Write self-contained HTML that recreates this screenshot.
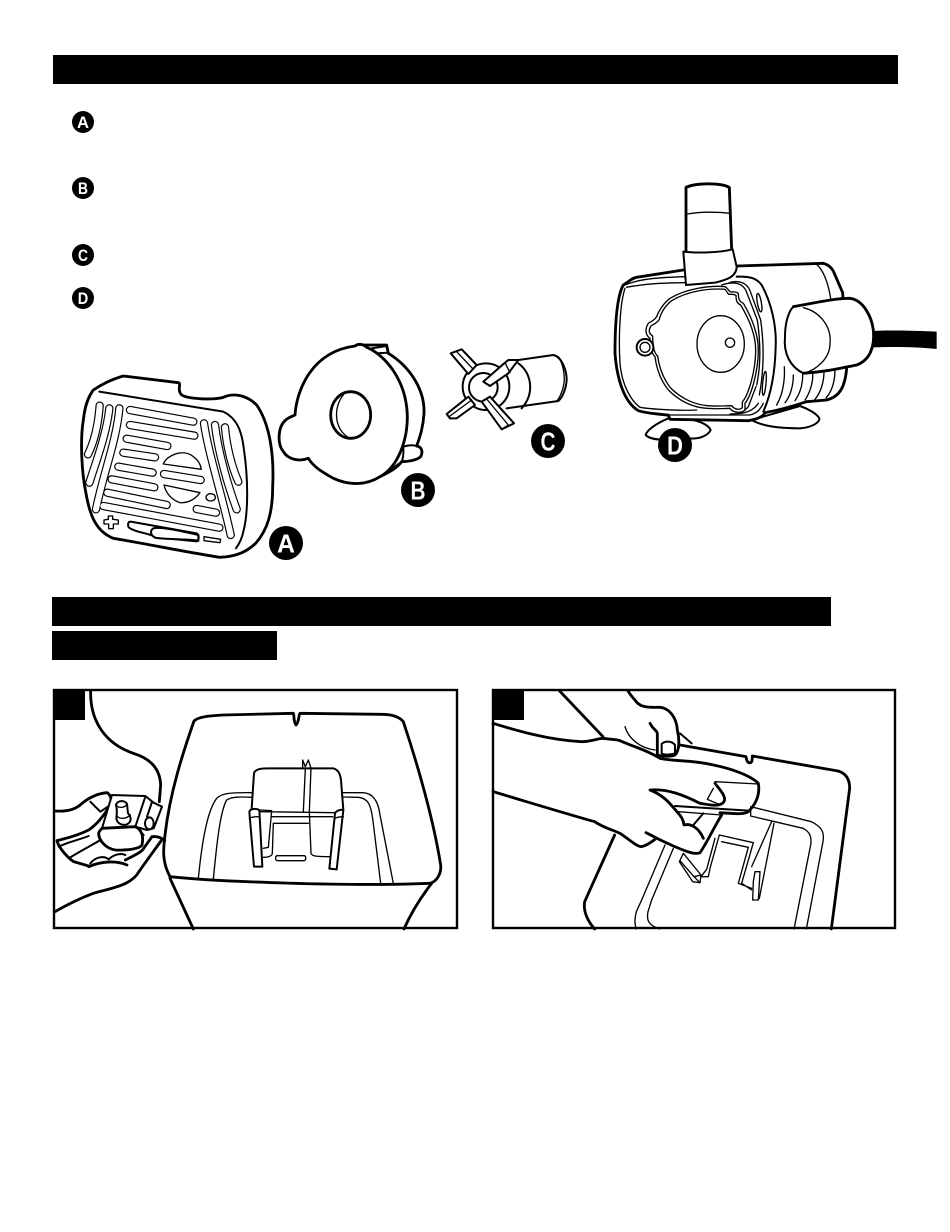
<!DOCTYPE html>
<html><head><meta charset="utf-8"><style>
html,body{margin:0;padding:0;background:#fff}
svg{display:block}
.f{fill:#fff;stroke:#000;stroke-linejoin:round;stroke-linecap:round}
.n{fill:none;stroke:#000;stroke-linejoin:round;stroke-linecap:round}
.b{stroke-width:8.5}.m{stroke-width:6}.t{stroke-width:4}
text{font-family:"Liberation Sans",sans-serif;font-weight:bold;fill:#fff;text-anchor:middle}
</style></head><body>
<svg width="950" height="1232" viewBox="0 0 950 1232" xmlns="http://www.w3.org/2000/svg">
<rect width="950" height="1232" fill="#fff"/>
<rect x="53" y="55" width="845" height="29"/>
<rect x="52" y="597" width="779" height="29"/>
<rect x="52" y="631" width="225" height="29"/>

<!-- Part A -->
<g transform="translate(60,340) scale(.33333)">
<path class="f b" d="M100,150C130,130 165,115 190,108L355,128C365,130 350,150 365,165C385,178 460,180 490,172C520,158 560,165 590,195C628,250 643,340 638,440C638,520 622,570 587,610C560,635 530,650 480,652C400,640 250,610 160,595C110,575 90,530 78,460C65,400 60,300 70,240C75,195 85,170 100,150Z"/>
<path class="n m" d="M118,155L490,215C530,235 545,270 552,330C565,420 565,520 550,575C545,600 535,615 528,625"/>
<defs><g id="sl" fill="none" stroke-linecap="round" stroke-linejoin="round">
<path d="M210,210L400,245M210,255L403,287M200,296L322,318M190,338L285,352M175,380L278,398M155,418L283,442M142,458L320,495M130,498L478,563M312,402L422,420"/>
<path d="M119,197C115,250 105,300 84,343M148,205C140,280 110,360 88,428M178,205C170,300 130,400 108,508"/>
<path d="M432,250C445,340 490,480 512,585M465,255C475,340 505,440 530,508M495,262C500,320 515,380 535,425"/>
<path d="M410,507L468,518"/>
</g></defs>
<use href="#sl" stroke="#000" stroke-width="25"/>
<use href="#sl" stroke="#fff" stroke-width="18"/>
<path class="n t" d="M310,372C320,345 370,325 400,350C415,360 422,375 424,388ZM312,435L420,458C405,480 380,490 360,488C335,480 318,460 312,435Z"/>
<ellipse class="n t" cx="452" cy="472" rx="14" ry="11"/>
<path class="f m" d="M212,545L410,580C418,585 418,600 410,604L290,592C270,580 215,575 205,560C203,550 205,545 212,545Z"/>
<path d="M280,565C300,560 350,570 415,585L415,602C370,595 340,600 290,594C272,590 268,572 280,565Z" fill="#fff" stroke="#000" stroke-width="6"/>
<path class="f t" d="M432,590L482,598L480,608L432,602Z"/>
<path class="f t" d="M145,528L158,528L158,538L175,540L175,552L160,552L160,566L146,566L146,552L132,552L132,540L145,538Z"/>
</g>

<!-- Part B -->
<g transform="translate(270,330) scale(.33333)">
<path class="f b" d="M280,45L350,45L355,70C420,110 465,180 462,250C460,290 450,320 440,348C455,350 460,365 452,380C440,392 410,395 395,395C380,415 360,425 330,440L300,300Z"/>
<path class="f b" d="M75,255C80,180 125,65 255,48C265,40 280,42 290,52C345,75 410,150 412,260C412,330 385,410 330,440C290,465 240,468 190,445C155,425 130,410 115,385C90,395 55,390 40,365C20,340 25,290 45,272C55,262 65,260 75,255Z"/>
<path class="n m" d="M305,55L350,48L355,68L320,70ZM400,350C415,345 430,345 440,348M400,350C400,365 402,380 395,395M345,432L395,395"/>
<ellipse class="f b" cx="242" cy="255" rx="60" ry="70"/>
<path class="n t" d="M220,195C190,230 190,300 240,325"/>
</g>

<!-- Part C -->
<g transform="translate(440,340) scale(.33333)">
<path d="M200,65L340,45C365,50 380,90 380,120C378,150 365,175 355,183L200,205Z" fill="#fff"/>
<path class="n m" d="M200,65L340,45C365,50 380,90 380,120C378,150 365,175 355,183L200,205"/>
<path class="n t" d="M355,50C368,70 375,100 372,130C368,155 358,175 350,183"/>
<path class="n m" d="M235,70C275,100 285,160 245,205"/>
<circle class="f m" cx="138" cy="140" r="70"/>
<circle class="f m" cx="130" cy="142" r="43"/>
<path class="f m" d="M32,40L65,28L110,75L85,102Z"/>
<path class="n t" d="M50,35L100,88"/>
<path class="f m" d="M130,125L195,68L205,60L235,60L205,100L150,138Z"/>
<path class="n t" d="M195,68L210,98"/>
<path class="f m" d="M20,222L85,170L105,195L50,235L30,235Z"/>
<path class="n t" d="M30,228L95,180"/>
<path class="f m" d="M125,185L150,170L222,250L185,268Z"/>
<path class="n t" d="M140,177L205,255L185,268"/>
</g>

<!-- Part D -->
<g transform="translate(600,170) scale(.33333)">
<path class="f m" d="M205,745C170,760 140,780 137,795C150,808 180,810 205,808L270,805C300,808 325,795 332,780C325,765 300,755 280,750Z"/>
<path class="f m" d="M455,750C490,770 540,775 600,775C640,772 660,755 658,745C650,730 620,715 600,708Z"/>
<path d="M820,483C880,480 950,482 1010,485L1010,537C950,530 880,530 820,532Z"/>
<path class="f b" d="M250,300L110,322C95,325 90,332 70,345C50,380 45,470 45,550C50,620 70,695 115,722C140,730 200,735 205,735L210,748L445,752C470,748 490,740 495,728C540,720 590,705 620,695L680,690C720,680 735,650 740,595L728,368L705,315C700,300 690,285 670,280L412,288Z"/>
<path class="n t" d="M650,283C670,300 685,340 692,385M75,345C120,325 190,322 255,320M80,352C130,342 200,338 255,338"/>
<path class="n t" d="M75,355C60,400 55,500 60,580C65,640 90,690 120,712C170,720 260,722 290,720M205,735L450,735C470,730 480,720 490,700"/>
<path class="n m" d="M410,320C450,318 470,325 485,345C515,400 530,470 527,530C525,620 510,680 490,725"/>
<path class="n t" d="M553,590C555,630 550,670 530,705M580,615C580,650 570,680 555,698M608,615C608,650 597,675 585,692M638,610C640,640 628,670 615,690M672,605C672,640 660,670 645,688M705,598C705,635 695,665 678,684"/>
</g>
<g transform="translate(630,270) scale(.33333)">
<path class="n t" d="M275,45C320,30 340,45 348,62L382,150C392,220 392,290 380,345M298,38C330,28 352,42 360,62L392,150C402,220 402,300 388,375M345,420L355,410L378,350M300,432C330,432 365,430 385,400"/>
<ellipse class="n t" cx="388" cy="98" rx="6" ry="28" transform="rotate(-10 388 98)"/>
<ellipse class="n t" cx="403" cy="340" rx="5" ry="36" transform="rotate(5 403 340)"/>
<path class="f t" d="M285,50C240,46 170,55 120,85C100,100 85,125 80,140C70,155 60,155 55,160C45,175 45,195 60,205C60,230 65,250 75,260C80,300 95,335 115,360C150,395 190,412 230,415C260,418 285,415 300,415C310,430 335,430 345,420L345,400C365,375 385,300 385,240C385,200 370,150 340,100C330,95 325,90 325,70C315,62 305,68 300,65C295,60 290,52 285,50Z"/>
<path class="n t" d="M285,58C240,54 175,62 125,92C105,107 92,130 88,148C78,163 68,162 63,168C55,180 56,190 68,198C68,230 73,250 83,258C88,298 103,330 122,354C155,387 195,404 232,407C260,410 285,407 305,407C315,420 330,420 337,413L337,396C357,372 377,300 377,240C377,200 362,155 332,105C322,100 318,95 318,76C308,70 300,75 295,72C290,66 288,60 285,58Z"/>
<circle class="f m" cx="45" cy="232" r="25"/>
<circle class="n t" cx="45" cy="232" r="15"/>
<ellipse class="f t" cx="272" cy="222" rx="71" ry="85"/>
<circle class="f t" cx="300" cy="218" r="14"/>
</g>
<g transform="translate(600,170) scale(.33333)">
<path class="f b" d="M258,245L258,52C290,38 360,38 388,52L395,240"/>
<path class="n t" d="M262,132C300,125 350,125 390,130"/>
<path class="f m" d="M250,245C290,250 360,248 398,238L410,290C410,320 380,330 345,338L258,345Z"/>
<path d="M580,410C640,400 700,385 750,385C790,390 815,440 820,480C825,530 810,570 770,585C720,595 680,605 610,610C570,590 550,550 555,500C555,460 565,425 580,410Z" fill="#fff"/>
<path class="n b" d="M580,410C640,400 700,385 750,385C790,390 815,440 820,480C825,530 810,570 770,585C720,595 680,605 610,610"/>
<path class="n m" d="M610,610C570,590 550,550 555,500C555,460 565,425 580,410"/>
<path class="n t" d="M610,413C660,425 695,470 690,520C690,565 650,600 610,610"/>
</g>

<!-- Panel 1 -->
<g transform="translate(50,685) scale(.33333)">
<path class="n b" d="M360,580L430,732M1145,595C1110,640 1085,680 1062,732"/>
<path class="f b" d="M432,108C445,95 480,92 520,90L730,85C733,90 730,110 738,120C748,110 745,92 750,85L990,88C1020,88 1045,92 1060,110C1100,230 1150,400 1172,540C1175,565 1160,590 1140,595C900,605 500,590 360,575C335,530 340,490 345,450C360,320 400,200 432,108Z"/>
<path class="n t" d="M445,580C455,480 470,380 500,340C515,325 540,322 605,323M490,582C500,480 510,380 530,345C545,335 570,335 605,337M878,323L940,323C970,325 985,350 990,390L1030,595M878,336L925,337C955,340 962,360 968,400L992,595"/>
<path class="n b" d="M122,18C120,90 150,170 250,205C300,220 330,250 332,300L328,350"/>
<path class="n b" d="M15,680C50,660 90,640 130,625C180,610 230,605 260,570C280,540 310,500 335,465"/>
</g>
<g transform="translate(240,760) scale(.33333)">
<path class="n m" d="M35,145L42,40C45,28 60,25 80,25L280,25C295,30 300,40 303,60L310,150"/>
<path class="n t" d="M188,25L188,0L196,20L205,0L213,25M196,25L190,155M213,25L208,155L213,280C215,290 240,290 270,290"/>
<path class="n t" d="M62,155L285,158M95,170L278,170M100,190L205,190M100,190L97,280C95,290 80,292 68,292M60,150L95,152L85,262L70,265"/>
<rect class="f t" x="107" y="287" width="90" height="15" rx="5"/>
<path class="f m" d="M28,155C30,145 50,145 58,150L67,320L42,320Z"/>
<path class="n t" d="M28,175C35,170 50,170 55,170"/>
<path class="f m" d="M285,160C290,150 305,148 310,150L290,328L268,326Z"/>
<path class="n t" d="M285,175C295,170 305,170 310,170"/>
</g>
<g transform="translate(52,780) scale(.33333)">
<path class="n b" d="M10,93C40,95 70,90 90,70C115,50 140,40 165,38C178,45 180,65 175,75C160,100 140,130 110,150C70,170 40,175 15,182C20,205 50,235 65,245L110,258"/>
<path class="n m" d="M115,65L145,95L175,75M20,200C50,185 80,180 110,168M55,232C90,210 130,190 145,180M115,250C130,232 155,225 170,238C190,220 210,220 220,225"/>
<path class="n b" d="M110,260C145,245 190,240 225,255M220,240C250,225 270,215 275,205L300,170C320,168 330,175 338,182"/>
<path class="f m" d="M180,45L280,48L305,68L330,80L305,145L285,150L250,140L150,145Z"/>
<path class="n m" d="M280,50L250,140L275,165M300,66L285,110"/>
<ellipse class="f m" cx="292" cy="130" rx="13" ry="18"/>
<path class="f b" d="M150,145L250,140C270,150 275,170 270,195C265,205 230,212 190,210C160,205 140,180 140,160C140,155 145,150 150,145Z"/>
<path class="f m" d="M192,75C195,60 220,60 225,72L228,100C238,110 240,125 225,133C210,138 195,130 193,115C195,100 195,85 192,75Z"/>
<path class="n t" d="M192,75C200,85 218,85 225,72M195,108C205,120 225,115 235,105"/>
</g>
<rect x="53" y="689" width="32" height="31"/>
<rect x="54" y="690" width="403" height="238" fill="none" stroke="#000" stroke-width="2.4"/>

<!-- Panel 2 -->
<g transform="translate(488,685) scale(.33333)">
<path class="n b" d="M1050,258C1075,265 1085,285 1085,310L1030,732M380,450L290,650C285,680 300,710 320,732"/>
<path class="n t" d="M970,410C1000,425 1010,440 1005,470L955,732M945,430C965,440 972,455 968,480L918,732M461,645L445,680C440,700 440,720 445,732M491,645L480,680C475,705 480,720 515,732"/>
</g>
<g transform="translate(620,700) scale(.33333)">
<path class="n b" d="M180,135L378,170C380,185 385,190 392,188C398,185 396,175 397,168L654,213"/>
<path class="n m" d="M180,100L215,130"/>
<path class="n t" d="M392,320L574,365M392,348L549,385M392,320L392,348"/>
<path class="n t" d="M135,435L65,600M160,445L95,600"/>
<path class="n t" d="M462,370L418,595M455,365L395,500M298,405L400,428L365,550L395,570M305,425L385,442L355,550L395,565M298,405L270,505L265,530L243,530L260,508L285,415"/>
<path class="f t" d="M190,460L178,485L218,545L240,548L243,525Z"/>
<path class="n t" d="M180,482L222,530L240,548M222,530L243,525"/>
<path class="f t" d="M405,515L420,515L415,600L398,600L400,545Z"/>
<path d="M-396,70L-110,125L0,122L120,175L280,195L415,250L385,335L305,345L240,458L105,418L65,440L-76,365L-396,275Z" fill="#fff"/>
<path class="n b" d="M-381,70C-316,90 -216,120 -116,125C-86,125 -66,115 -51,115C-30,118 -10,118 0,122C40,140 80,150 120,175C170,185 220,180 280,195C330,205 390,225 415,250C420,280 410,310 385,335C370,345 340,340 300,338"/>
<path class="n t" d="M285,245L415,252M175,335L305,345"/>
<path class="n m" d="M165,318L385,332"/>
<path class="n b" d="M285,250C300,270 320,290 312,305C300,322 270,315 240,310C190,285 140,265 90,270C130,285 150,310 175,340C185,350 190,360 192,375C210,370 235,380 250,415"/>
<path class="n m" d="M220,375L250,340"/>
<path class="n t" d="M280,265L262,298L295,312"/>
<path class="n b" d="M-381,275C-296,300 -166,340 -76,365C-46,385 -20,390 0,400C30,420 50,440 65,440C85,435 95,425 105,418M78,398C100,410 130,425 160,438C200,455 225,465 240,458C260,430 280,385 305,345"/>
<path class="n b" d="M-181,-27L-51,110M24,-27C35,-10 45,0 45,0C60,25 90,22 120,22C150,25 170,55 172,90C178,115 180,150 165,165C150,170 125,170 115,165M90,70C100,90 110,90 112,100L112,165"/>
<path class="n t" d="M15,80C25,115 60,145 105,150"/>
<path class="f m" d="M125,132C135,122 155,122 165,135L165,160C150,165 130,165 125,160Z"/>
</g>
<rect x="492" y="689" width="32" height="31"/>
<rect x="493" y="690" width="402" height="238" fill="none" stroke="#000" stroke-width="2.4"/>

<!-- Badges -->
<circle cx="83" cy="122" r="11"/><text x="83" y="128" font-size="17" textLength="12" lengthAdjust="spacingAndGlyphs">A</text>
<circle cx="83" cy="188" r="11"/><text x="83" y="194" font-size="17" textLength="10" lengthAdjust="spacingAndGlyphs">B</text>
<circle cx="83" cy="255" r="11"/><text x="83" y="261" font-size="17" textLength="10" lengthAdjust="spacingAndGlyphs">C</text>
<circle cx="83" cy="298" r="11"/><text x="83" y="304" font-size="17" textLength="10.5" lengthAdjust="spacingAndGlyphs">D</text>
<circle cx="286" cy="543" r="17"/><text x="286" y="552.5" font-size="26" textLength="18" lengthAdjust="spacingAndGlyphs">A</text>
<circle cx="418" cy="490" r="17"/><text x="418" y="499.5" font-size="26" textLength="15" lengthAdjust="spacingAndGlyphs">B</text>
<circle cx="548" cy="441" r="17"/><text x="548" y="450.5" font-size="26" textLength="15" lengthAdjust="spacingAndGlyphs">C</text>
<circle cx="675" cy="445" r="17"/><text x="675" y="454.5" font-size="26" textLength="16" lengthAdjust="spacingAndGlyphs">D</text>
</svg>
</body></html>
